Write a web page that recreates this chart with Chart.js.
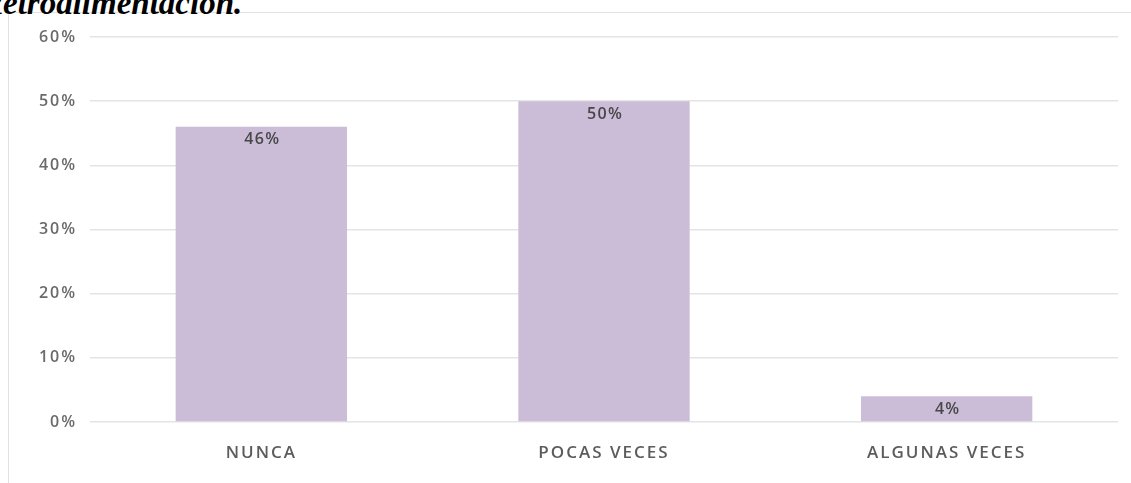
<!DOCTYPE html>
<html lang="es">
<head>
<meta charset="utf-8">
<title>Retroalimentación</title>
<script src="https://cdn.jsdelivr.net/npm/chart.js@4.4.1/dist/chart.umd.min.js"></script>
<style>
  html, body { margin: 0; padding: 0; background: #ffffff; overflow: hidden; }
  #wrap { position: relative; width: 1131px; height: 483px; }
  #title {
    position: absolute; left: -19px; top: -15px; margin: 0;
    font-family: "Liberation Serif", "DejaVu Serif", serif;
    font-weight: bold; font-style: italic; font-size: 33px; color: #000000;
    white-space: nowrap;
  }
  #frame {
    position: absolute; left: 8px; top: 12px; width: 1140px; height: 480px;
    border: 1px solid #e2e2e2; box-sizing: border-box;
  }
  #chart { position: absolute; left: 0; top: 0; }
</style>
</head>
<body>
<div id="wrap">
  <div id="frame"></div>
  <div id="title">Retroalimentación.</div>
  <canvas id="chart" width="1131" height="483"></canvas>
</div>
<script>
// Response categories and their share of answers (%)
const categories = ["NUNCA", "POCAS VECES", "ALGUNAS VECES"];
const shares = [46, 50, 4];
const yTicks = [0, 10, 20, 30, 40, 50, 60];

const labelFont = { family: "'Open Sans', Lato, sans-serif", size: 17, weight: 600 };
const textSpacing = "2px";

// Keeps the letter spacing on the canvas context (it resets on resize)
const spacedText = {
  id: "spacedText",
  beforeLayout(chart) { chart.ctx.letterSpacing = textSpacing; },
  beforeDraw(chart) { chart.ctx.letterSpacing = textSpacing; }
};

// Writes each bar's value just inside its top edge
const barValueLabels = {
  id: "barValueLabels",
  afterDatasetsDraw(chart) {
    const ctx = chart.ctx;
    const meta = chart.getDatasetMeta(0);
    ctx.save();
    ctx.letterSpacing = "1.3px";
    ctx.font = `${labelFont.weight} 16px ${labelFont.family}`;
    ctx.fillStyle = "#474747";
    ctx.textAlign = "center";
    ctx.textBaseline = "top";
    meta.data.forEach((bar, i) => {
      ctx.fillText(shares[i] + "%", bar.x + 1, bar.y + 5);
    });
    ctx.restore();
  }
};

new Chart(document.getElementById("chart"), {
  type: "bar",
  data: {
    labels: categories,
    datasets: [{
      data: shares,
      backgroundColor: "#cbbdd8",
      borderWidth: 0,
      categoryPercentage: 1,
      barPercentage: 0.5
    }]
  },
  options: {
    responsive: false,
    animation: false,
    layout: { padding: { top: 37, right: 13, bottom: 0, left: 0 } },
    plugins: { legend: { display: false }, tooltip: { enabled: false } },
    scales: {
      x: {
        grid: { display: false, drawTicks: false },
        border: { display: false },
        ticks: { color: "#5c5c5c", font: labelFont, padding: 21 },
        afterFit(scale) { scale.height = 61; }
      },
      y: {
        min: 0, max: 60,
        afterBuildTicks(scale) { scale.ticks = yTicks.map(v => ({ value: v })); },
        grid: { color: "#e4e4e4", lineWidth: 1.5, drawTicks: false },
        border: { display: false },
        ticks: {
          color: "#6a6a6a", font: { family: labelFont.family, size: 16, weight: 600 }, padding: 13,
          callback: v => v + "%"
        },
        afterFit(scale) { scale.width = 90; }
      }
    }
  },
  plugins: [spacedText, barValueLabels]
});
</script>
</body>
</html>
